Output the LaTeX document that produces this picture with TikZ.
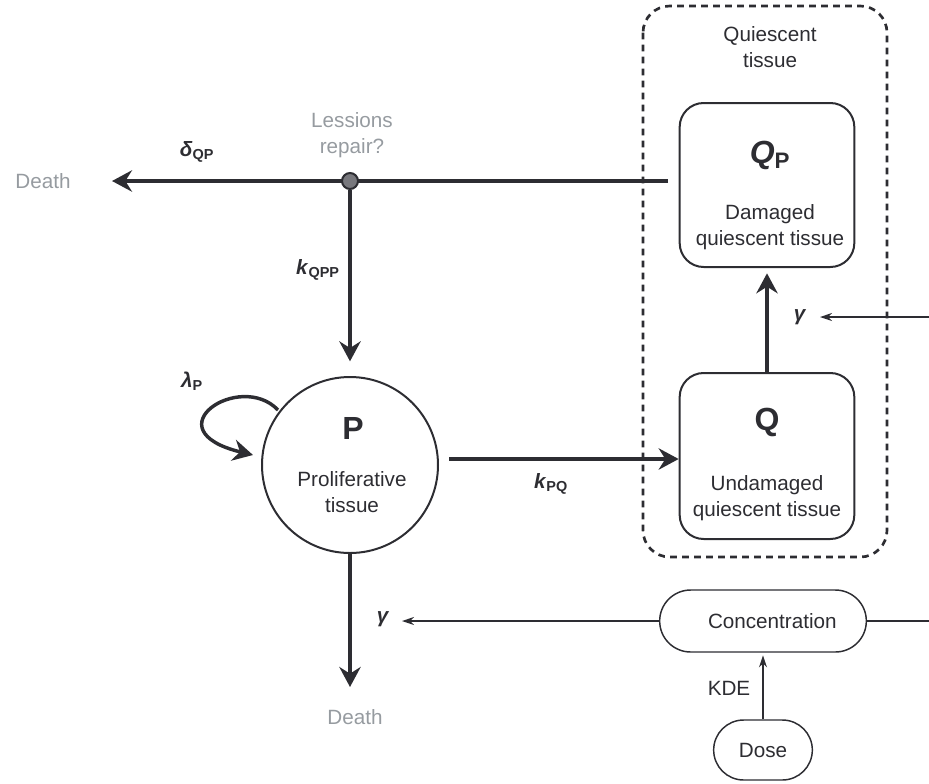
\documentclass[tikz,border=0pt]{standalone}
\usepackage{fontspec}
\setmainfont{Liberation Sans}
\usetikzlibrary{arrows.meta,shapes.misc}
\definecolor{ink}{RGB}{45,45,50}
\definecolor{faded}{RGB}{150,155,160}
\definecolor{juncfill}{RGB}{120,120,125}
\newcommand{\ratelbl}[2]{\textbf{\textit{#1}\textsubscript{#2}}}
\tikzset{
	txt/.style={font=\fontsize{15.5}{20}\selectfont, text=ink, align=center, inner sep=0pt},
	grey txt/.style={txt, text=faded},
	big/.style={font=\fontsize{24}{28}\selectfont\bfseries, text=ink, inner sep=0pt},
	compartment/.style={draw=ink, line width=1.5pt, rounded corners=18pt, minimum width=131pt, minimum height=123pt},
	pill/.style={draw=ink, line width=1.1pt, rounded rectangle, inner sep=0pt, font=\fontsize{15.5}{20}\selectfont, text=ink},
	flow/.style={draw=ink, line width=2.6pt, -{Stealth[length=15pt,width=16pt,inset=5pt]}},
	thin flow/.style={draw=ink, line width=1.1pt, -{Stealth[length=9pt,width=6pt]}}}
\tikzset{every picture/.style={line width=0.75pt}}

\begin{document}
\begin{tikzpicture}[x=0.75pt,y=0.75pt,yscale=-1,xscale=1]
		\useasboundingbox (0,0) rectangle (929,783);

		% Quiescent group
		\draw [ink, line width=2pt, dash pattern=on 5pt off 4pt, rounded corners=20pt] (643,6) rectangle (887,557) ;
		\node [txt] (qlbl) at (770,47) {Quiescent\\tissue};

		% Compartments
		\node [compartment] (QP) at (767,185) {};
		\node [compartment, minimum height=124.5pt] (Q) at (767,456) {};
		\node [circle, draw=ink, line width=1.5pt, minimum size=132pt] (P) at (350,465) {};
		\node [pill, minimum width=155pt, minimum height=46.5pt] (conc) at (763,621) {\hspace*{14pt}Concentration};
		\node [pill, minimum width=74pt, minimum height=45pt] (dose) at (763,750) {Dose};

		% Compartment texts
		\node [big] (QPname) at (770,155) {\textit{Q}\textsubscript{P}};
		\node [txt] (QPtext) at (770,227) {Damaged\\quiescent tissue};
		\node [big] (Qname) at (767,422) {Q};
		\node [txt] (Qtext) at (767,498) {Undamaged\\quiescent tissue};
		\node [big] (Pname) at (353,428) {P};
		\node [txt] (Ptext) at (352,492) {Proliferative\\tissue};

		% Free ends
		\coordinate (qpout) at (668,181);
		\coordinate (deathtip) at (112,181);
		\coordinate (loopstart) at (278,410);
		\coordinate (loopend) at (253,455);
		\coordinate (pqstart) at (449,459);
		\coordinate (pdeath) at (350,687);
		\coordinate (gammatipA) at (820,317);
		\coordinate (gammatipB) at (402,621);
		\coordinate (edgeA) at (929,317);
		\coordinate (edgeB) at (929,618);

		% Death of damaged tissue and repair
		\draw [flow] (qpout) -- (deathtip) ;
		\node [circle, draw=ink, line width=1.5pt, fill=juncfill, minimum size=12pt, inner sep=0pt] (junction) at (350,181) {};
		\draw [flow, shorten >=11pt] (junction) -- (P.north) ;

		% Proliferation, transfer and death
		\draw [flow] (loopstart) .. controls (240,370) and (150,430) .. (loopend) ;
		\draw [flow] (pqstart) -- (Q.west |- pqstart) ;
		\draw [flow, shorten >=4pt] (Q.north) -- (QP.south) ;
		\draw [flow] (P.south) -- (pdeath) ;

		% Drug effect
		\draw [thin flow] (edgeA) -- (gammatipA) ;
		\draw [thin flow] (conc.west) -- (gammatipB) ;
		\draw [ink, line width=1.1pt] (conc.east) -- (conc.east -| edgeB) ;
		\draw [thin flow, shorten >=2pt] (dose.north) -- (conc.south) ;

		% Text Node
		\node [grey txt] (deathL) at (43,181) {Death};
		\node [grey txt] (deathB) at (355,717) {Death};
		\node [grey txt] (repair) at (352,135) {Lessions\\repair?};
		\node [txt] (dQP) at (197,152) {\ratelbl{δ}{QP}};
		\node [txt] (kQPP) at (318,270) {\ratelbl{k}{QPP}};
		\node [txt] (lamP) at (192,381) {\ratelbl{λ}{P}};
		\node [txt] (kPQ) at (551,484) {\ratelbl{k}{PQ}};
		\node [txt] (gamA) at (800,317) {\textbf{\textit{γ}}};
		\node [txt] (gamB) at (383,619) {\textbf{\textit{γ}}};
		\node [txt] (kde) at (729,688) {KDE};

		\end{tikzpicture}
\end{document}
